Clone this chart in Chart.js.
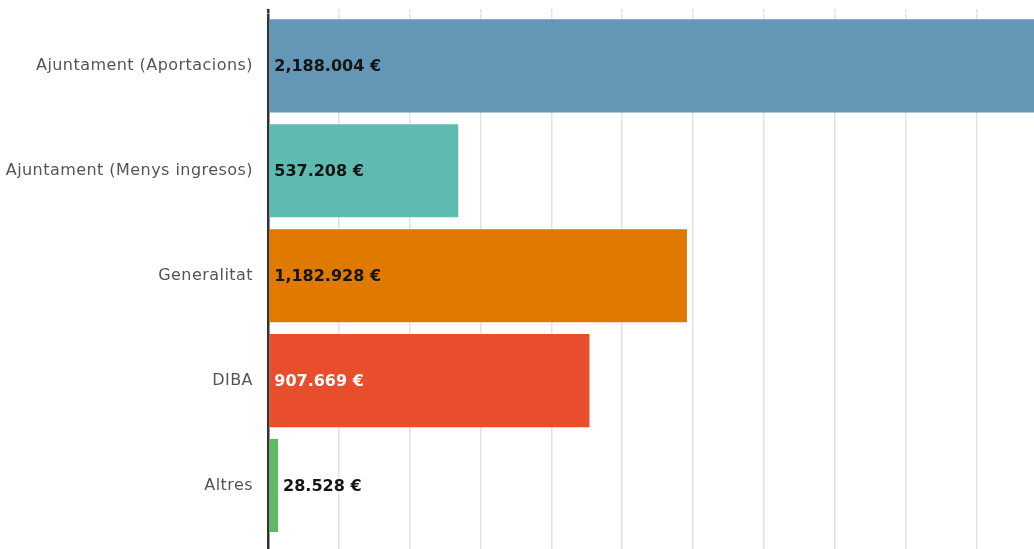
<!DOCTYPE html>
<html>
<head>
<meta charset="utf-8">
<script src="https://cdn.jsdelivr.net/npm/chart.js@4"></script>
<style>
  html, body { margin: 0; padding: 0; background: #fff; overflow: hidden; }
  #wrap { width: 1118px; height: 568px; }
</style>
</head>
<body>
<div id="wrap">
  <canvas id="myChart" width="1118" height="568"></canvas>
</div>
<script>
const categories = [
  "Ajuntament (Aportacions)",
  "Ajuntament (Menys ingresos)",
  "Generalitat",
  "DIBA",
  "Altres",
];
const amounts = [2188004, 537208, 1182928, 907669, 28528];
const barColors = ["#6496b6", "#5fbab0", "#e07900", "#e84e2c", "#60b860"];
const labelColors = ["#151515", "#151515", "#151515", "#ffffff", "#151515"];
const axisMax = 2400000;
const axisStep = 200000;

// 2188004 -> "2,188.004 €"
function euro(v) {
  const s = Math.round(v).toLocaleString("en-US");
  const i = s.lastIndexOf(",");
  return (i < 0 ? s : s.slice(0, i) + "." + s.slice(i + 1)) + " €";
}

// the category names are a bit more spread out than DejaVu
const spacing = {
  id: "spacing",
  beforeDraw(chart) {
    chart.ctx.letterSpacing = "0.45px";
  },
};

const valueLabels = {
  id: "valueLabels",
  afterDatasetsDraw(chart) {
    const ctx = chart.ctx;
    const meta = chart.getDatasetMeta(0);
    ctx.save();
    ctx.letterSpacing = "0px";
    ctx.font = "bold 16px 'DejaVu Sans'";
    ctx.textBaseline = "middle";
    ctx.textAlign = "left";
    meta.data.forEach((bar, i) => {
      const txt = euro(amounts[i]);
      const w = ctx.measureText(txt).width;
      let x = bar.base + 5;
      let color = labelColors[i];
      if (bar.x - bar.base < w + 10) {
        x = bar.x + 5;
        color = "#151515";
      }
      ctx.fillStyle = color;
      ctx.fillText(txt, x, bar.y + 1);
    });
    ctx.restore();
  },
};

const ctx = document.getElementById("myChart").getContext("2d");
const myChart = new Chart(ctx, {
  type: "bar",
  data: {
    labels: categories,
    datasets: [
      {
        data: amounts,
        backgroundColor: barColors,
        borderWidth: 0,
        barPercentage: 0.887,
        categoryPercentage: 1,
      },
    ],
  },
  options: {
    indexAxis: "y",
    responsive: false,
    animation: false,
    devicePixelRatio: 1,
    layout: { padding: 0 },
    plugins: {
      legend: { display: false },
      tooltip: { enabled: false },
    },
    scales: {
      x: {
        position: "bottom",
        min: 0,
        max: axisMax,
        ticks: { display: false, stepSize: axisStep },
        border: { display: false },
        grid: {
          drawTicks: true,
          tickLength: 30,
          color: (c) => (c.tick && c.tick.value === 0 ? "#333333" : "#e2e2e2"),
          lineWidth: (c) => (c.tick && c.tick.value === 0 ? 2.5 : 1.5),
        },
        afterFit(scale) {
          scale.height = 30;
          scale.paddingLeft = 0;
          scale.paddingRight = 0;
        },
      },
      x2: {
        position: "top",
        min: 0,
        max: axisMax,
        ticks: { display: false, stepSize: axisStep },
        border: { display: false },
        grid: {
          drawOnChartArea: false,
          drawTicks: true,
          tickLength: 4.5,
          color: (c) => (c.tick && c.tick.value === 0 ? "#333333" : "#e2e2e2"),
          lineWidth: (c) => (c.tick && c.tick.value === 0 ? 2.5 : 1.5),
        },
        afterFit(scale) {
          scale.height = 13.4;
          scale.paddingLeft = 0;
          scale.paddingRight = 0;
        },
      },
      y: {
        grid: { display: false, drawTicks: false },
        border: { display: false },
        ticks: {
          padding: 15,
          color: "#555555",
          font: { family: "'DejaVu Sans'", size: 16 },
        },
        afterFit(scale) {
          scale.width = 268;
          scale.paddingTop = 0;
          scale.paddingBottom = 0;
        },
      },
    },
  },
  plugins: [spacing, valueLabels],
});
</script>
</body>
</html>
